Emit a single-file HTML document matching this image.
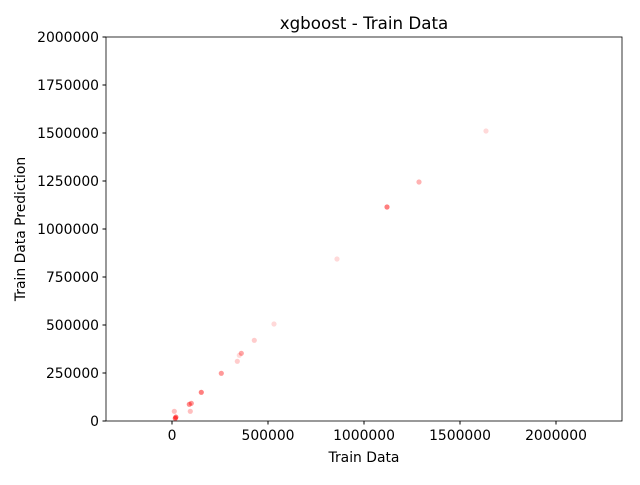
<!DOCTYPE html>
<html><head><meta charset="utf-8"><style>
body{margin:0;background:#fff;font-family:"Liberation Sans","DejaVu Sans",sans-serif;}
svg text{font-family:"DejaVu Sans","Liberation Sans",sans-serif;fill:#000;}
</style></head><body>
<svg id="chart" width="640" height="480" viewBox="0 0 640 480">
<rect width="640" height="480" fill="#fff"/>
<g id="marks"></g>
<rect x="106" y="37" width="516" height="384" fill="none" stroke="#000" stroke-width="0.8"/>
<g id="xt"></g>
<g id="yt"></g>
<text x="364" y="29" font-size="16.7" text-anchor="middle">xgboost - Train Data</text>
<text x="364" y="462" font-size="13.9" text-anchor="middle">Train Data</text>
<text transform="translate(25,229) rotate(-90)" font-size="13.9" text-anchor="middle">Train Data Prediction</text>
</svg>
<script>
const actual=[1635400,1286500,1119800,859400,531200,428600,361000,350500,340100,256800,152600,100500,90100,12000,95300,17200,20000];
const predicted=[1510400,1244800,1114600,843800,505200,420300,352600,342200,310900,248400,149500,92200,87000,50500,50500,14000,20000];
const alphas=[0.15,0.3,0.5,0.15,0.15,0.2,0.35,0.15,0.2,0.4,0.5,0.4,0.45,0.25,0.25,0.55,0.55];
const xTicks=[0,500000,1000000,1500000,2000000];
const yTicks=[0,250000,500000,750000,1000000,1250000,1500000,1750000,2000000];
const xMin=-343750,xMax=2343750,yMin=0,yMax=2000000;
const L=106,R=622,T=37,B=421;
const sx=v=>L+(v-xMin)/(xMax-xMin)*(R-L);
const sy=v=>B-(v-yMin)/(yMax-yMin)*(B-T);
const NS="http://www.w3.org/2000/svg";
const m=document.getElementById('marks');
actual.forEach((a,i)=>{
 const c=document.createElementNS(NS,'circle');
 c.setAttribute('cx',sx(a));c.setAttribute('cy',sy(predicted[i]));c.setAttribute('r',2.6);
 c.setAttribute('fill','#ff0000');c.setAttribute('fill-opacity',alphas[i]);
 
 
 m.appendChild(c);
});
const xt=document.getElementById('xt');
xTicks.forEach(v=>{
 const x=sx(v);
 const l=document.createElementNS(NS,'line');
 l.setAttribute('x1',x);l.setAttribute('x2',x);l.setAttribute('y1',B);l.setAttribute('y2',B+3.5);l.setAttribute('stroke','#000');
 
 
 xt.appendChild(l);
 const t=document.createElementNS(NS,'text');
 t.setAttribute('x',x);t.setAttribute('y',B+19);t.setAttribute('font-size','13.9');t.setAttribute('text-anchor','middle');
 t.textContent=v;
 
 
 xt.appendChild(t);
});
const yt=document.getElementById('yt');
yTicks.forEach(v=>{
 const y=sy(v);
 const l=document.createElementNS(NS,'line');
 l.setAttribute('x1',L-3.5);l.setAttribute('x2',L);l.setAttribute('y1',y);l.setAttribute('y2',y);l.setAttribute('stroke','#000');
 
 
 yt.appendChild(l);
 const t=document.createElementNS(NS,'text');
 t.setAttribute('x',L-7);t.setAttribute('y',y+5);t.setAttribute('font-size','13.9');t.setAttribute('text-anchor','end');
 t.textContent=v;
 
 
 yt.appendChild(t);
});
</script>
</body></html>
